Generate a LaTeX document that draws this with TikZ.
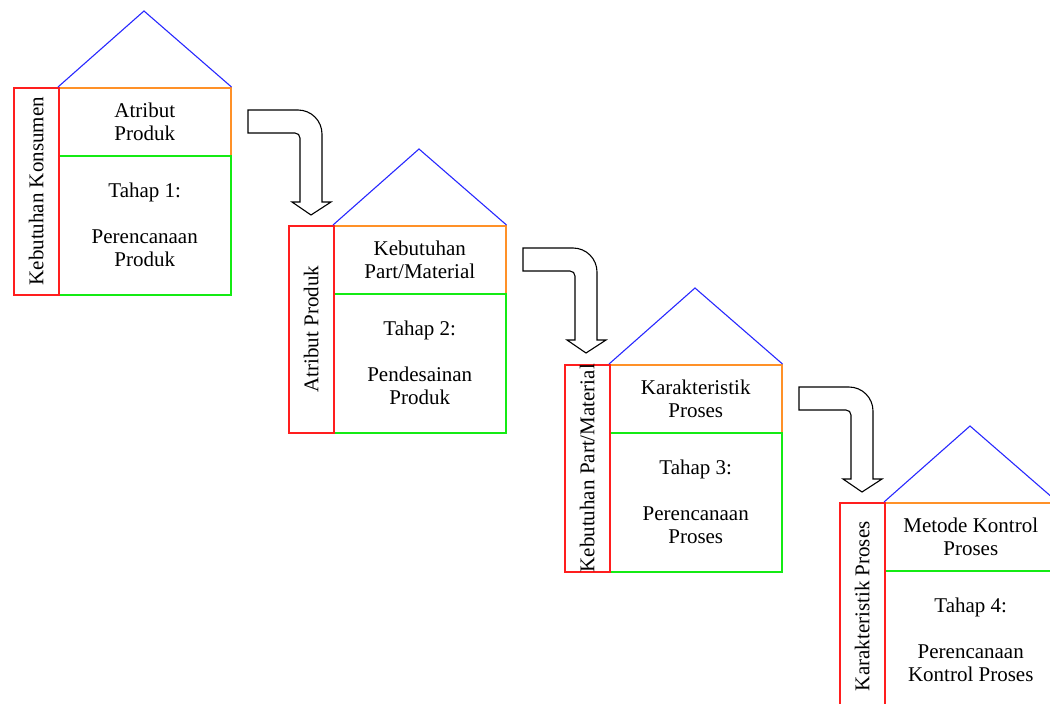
\documentclass[tikz,border=0pt]{standalone}
\usepackage{fontspec}
\setmainfont{Liberation Serif}
\definecolor{wallred}{RGB}{255,30,30}
\definecolor{floororange}{RGB}{255,145,40}
\definecolor{floorgreen}{RGB}{20,235,20}
\definecolor{roofblue}{RGB}{40,40,255}
\begin{document}
\begin{tikzpicture}[x=1pt,y=-1pt,
  lbl/.style={font=\fontsize{21}{23}\selectfont, align=center, inner sep=0pt},
  wallbox/.style={draw=wallred, line width=1.5pt, minimum width=45pt, minimum height=207pt, inner sep=0pt, anchor=north west},
  upperbox/.style={draw=floororange, line width=1.5pt, minimum width=172pt, minimum height=68pt, inner sep=0pt, anchor=north west},
  lowerbox/.style={draw=floorgreen, line width=1.5pt, minimum width=172pt, minimum height=139pt, inner sep=0pt, anchor=north west},
  roofline/.style={draw=roofblue, line width=1.1pt},
  blockarrow/.style={draw=black, fill=white, line width=1.1pt, line join=miter}]
\useasboundingbox (0,0) rectangle (1050,704);
\clip (0,0) rectangle (1050,704);

% one house: name, origin, side label, roof-floor label, ground-floor label
\newcommand\qfdhouse[6]{%
  \begin{scope}[shift={(#2,#3)}]
    \node[upperbox] (#1-up) at (45,0) {};
    \node[lowerbox] (#1-low) at (45,68) {};
    \node[wallbox] (#1-wall) at (0,0) {};
    \coordinate (#1-apex) at (131,-76);
    \draw[roofline] (#1-up.north west) -- (#1-apex) -- (#1-up.north east);
    \node[lbl] (#1-uptext) at (#1-up.center) {#5};
    \node[lbl] (#1-lowtext) at (#1-low.center) {#6};
    \node[lbl, rotate=90] (#1-walltext) at (#1-wall.center) {#4};
  \end{scope}}

% bent block arrow leading to the next house
\newcommand\bentarrow[2]{%
  \begin{scope}[shift={(#1,#2)}]
    \draw[blockarrow] (235,23) -- (285,23)
      .. controls (298.25,23) and (309,33.75) .. (309,47)
      -- (309,115) -- (318,115) -- (298,128) -- (279,115) -- (287,115)
      -- (287,51) .. controls (287,48.2) and (284.8,46) .. (282,46)
      -- (235,46) -- cycle;
  \end{scope}}

\qfdhouse{h1}{13}{87}{Kebutuhan Konsumen}{Atribut\\Produk}{Tahap 1:\\[23pt]Perencanaan\\Produk}
\qfdhouse{h2}{288}{225}{Atribut Produk}{Kebutuhan\\Part/Material}{Tahap 2:\\[23pt]Pendesainan\\Produk}
\qfdhouse{h3}{564}{364}{Kebutuhan Part/Material}{Karakteristik\\Proses}{Tahap 3:\\[23pt]Perencanaan\\Proses}
\qfdhouse{h4}{839}{502}{Karakteristik Proses}{Metode Kontrol\\Proses}{Tahap 4:\\[23pt]Perencanaan\\Kontrol Proses}

\bentarrow{13}{87}
\bentarrow{288}{225}
\bentarrow{564}{364}
\end{tikzpicture}
\end{document}
